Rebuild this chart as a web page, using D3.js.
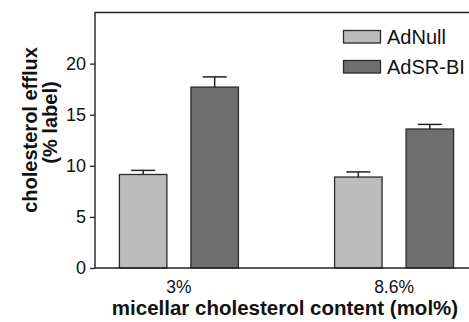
<!DOCTYPE html>
<html><head><meta charset="utf-8">
<script src="https://cdn.jsdelivr.net/npm/d3@7"></script>
<style>body{margin:0;background:#fff}svg{display:block}text{font-family:Arial,"Liberation Sans",sans-serif;fill:#111}</style>
</head><body>
<script>
const categories = ["3%", "8.6%"];
const series = ["AdNull", "AdSR-BI"];
const means = { "AdNull": [9.15, 8.9], "AdSR-BI": [17.7, 13.6] };
const errors = { "AdNull": [0.4, 0.5], "AdSR-BI": [1.0, 0.45] };
const yTicks = [0, 5, 10, 15, 20];
const colors = { "AdNull": "#bcbcbc", "AdSR-BI": "#6e6e6e" };

const W = 469, H = 322;
const L = 95, T = 12.5, B = 268;
const svg = d3.select("body").append("svg").attr("width", W).attr("height", H);

const y = d3.scaleLinear().domain([0, 25]).range([B, T]);
const x = d3.scalePoint().domain(categories).range([L, 478]).padding(0.39);
const xs = d3.scaleBand().domain(series).range([-59.5, 59.5]).paddingInner(0.336).paddingOuter(0);

const data = [];
categories.forEach((c, i) => series.forEach(s => data.push({ c, s, v: means[s][i], e: errors[s][i] })));

const eg = svg.append("g").attr("stroke", "#222").attr("stroke-width", 1.5);
data.forEach(d => {
  const cx = x(d.c) + xs(d.s) + xs.bandwidth() / 2;
  eg.append("line").attr("x1", cx).attr("x2", cx).attr("y1", y(d.v)).attr("y2", y(d.v + d.e));
  eg.append("line").attr("x1", cx - 12).attr("x2", cx + 12).attr("y1", y(d.v + d.e)).attr("y2", y(d.v + d.e));
});

svg.append("g").selectAll("rect").data(data).join("rect")
  .attr("x", d => x(d.c) + xs(d.s))
  .attr("width", xs.bandwidth())
  .attr("y", d => y(d.v))
  .attr("height", d => y(0) - y(d.v))
  .attr("fill", d => colors[d.s])
  .attr("stroke", "#2a2a2a").attr("stroke-width", 1.3);

const ya = svg.append("g").attr("transform", `translate(${L},0)`)
  .call(d3.axisLeft(y).tickValues(yTicks).tickSize(5).tickPadding(4));
ya.select(".domain").remove();
ya.selectAll("line").attr("stroke", "#222").attr("stroke-width", 1.3);
ya.selectAll("text").attr("font-size", 18).attr("fill", "#111").attr("font-family", "Arial,'Liberation Sans',sans-serif");

svg.append("path").attr("d", `M${W},${T}H${L}V${B}H${W}`)
  .attr("fill", "none").attr("stroke", "#222").attr("stroke-width", 1.4);

svg.append("g").selectAll("text").data(categories).join("text")
  .attr("x", d => x(d)).attr("y", 293).attr("text-anchor", "middle")
  .attr("font-size", 17.5).text(d => d);

svg.append("text").attr("x", 285).attr("y", 315).attr("text-anchor", "middle")
  .attr("font-size", 20.5).attr("font-weight", "bold").text("micellar cholesterol content (mol%)");

const yt = svg.append("g").attr("transform", "rotate(-90)");
yt.append("text").attr("x", -130).attr("y", 37).attr("text-anchor", "middle")
  .attr("font-size", 20).attr("font-weight", "bold").text("cholesterol efflux");
yt.append("text").attr("x", -122.5).attr("y", 57).attr("text-anchor", "middle")
  .attr("font-size", 20).attr("font-weight", "bold").text("(% label)");

const lg = svg.append("g");
series.forEach((s, i) => {
  lg.append("rect").attr("x", 343.5).attr("y", 30.5 + i * 30).attr("width", 37).attr("height", 12.5)
    .attr("fill", colors[s]).attr("stroke", "#2a2a2a").attr("stroke-width", 1.3);
  lg.append("text").attr("x", 387).attr("y", 43.5 + i * 30).attr("font-size", 20).text(s);
});
</script>
</body></html>
